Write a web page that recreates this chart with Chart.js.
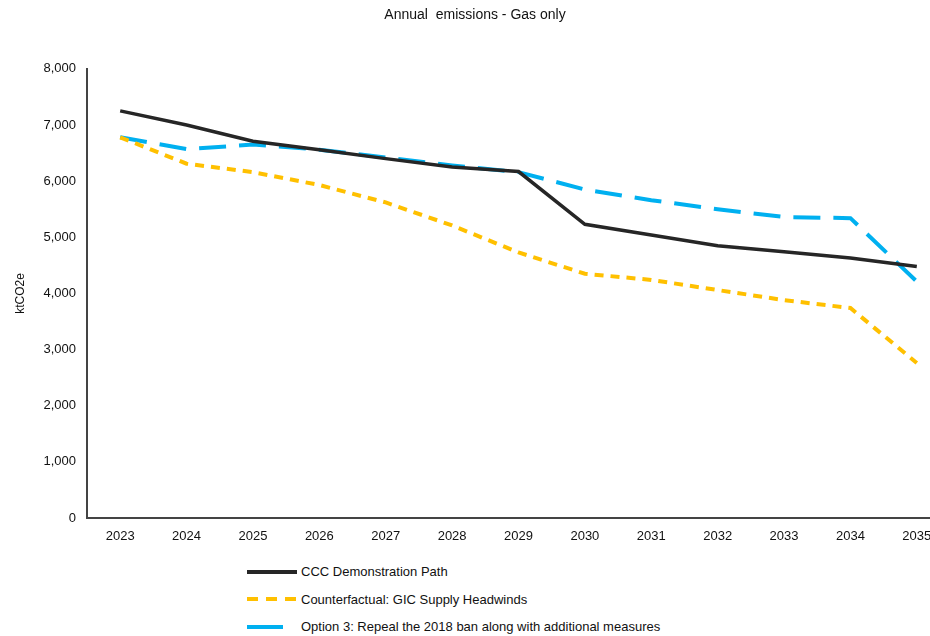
<!DOCTYPE html>
<html>
<head>
<meta charset="utf-8">
<script src="https://cdn.jsdelivr.net/npm/chart.js@4.4.1/dist/chart.umd.min.js"></script>
<style>
    body { margin: 0; background: #fff; overflow: hidden; }
    #wrap { position: relative; width: 952px; height: 636px; }
    #box { position: absolute; left: 0; top: 0; width: 952px; height: 552px; }
    #legenda { position: absolute; left: 246px; top: 558px; font-family: "Liberation Sans", Arial, sans-serif; font-size: 13px; color: #111; }
    .item { height: 27.5px; display: flex; align-items: center; }
    .item svg { width: 54px; height: 10px; margin-right: 1px; }
</style>
</head>
<body>
<div id="wrap">
    <div id="box"><canvas id="graficoEmissoes"></canvas></div>
    <div id="legenda"></div>
</div>
<script>
const anos = ["2023", "2024", "2025", "2026", "2027", "2028", "2029", "2030", "2031", "2032", "2033", "2034", "2035"];
const cccDemonstracao = [7250, 7000, 6710, 6560, 6400, 6250, 6170, 5230, 5040, 4850, 4740, 4630, 4480];
const contrafactual = [6780, 6310, 6160, 5930, 5620, 5210, 4730, 4350, 4240, 4060, 3880, 3740, 2760];
const opcao3 = [6780, 6570, 6650, 6560, 6420, 6280, 6160, 5850, 5660, 5500, 5360, 5340, 4210];
const ticksY = [0, 1000, 2000, 3000, 4000, 5000, 6000, 7000, 8000];

const fonte = "'Liberation Sans', Arial, sans-serif";
const corEixo = "#444";

const series = [
    { label: "CCC Demonstration Path", data: cccDemonstracao, cor: "#262626", dash: [], largura: 3.5 },
    { label: "Counterfactual: GIC Supply Headwinds", data: contrafactual, cor: "#FFC000", dash: [9, 7], largura: 4 },
    { label: "Option 3: Repeal the 2018 ban along with additional measures", data: opcao3, cor: "#00B0F0", dash: [27, 13], largura: 4 }
];

function criarGrafico() {
    const ctx = document.getElementById("graficoEmissoes").getContext("2d");

    new Chart(ctx, {
        type: "line",
        data: {
            labels: anos,
            datasets: series.map(s => ({
                label: s.label,
                data: s.data,
                borderColor: s.cor,
                backgroundColor: s.cor,
                borderDash: s.dash,
                borderWidth: s.largura,
                pointRadius: 0,
                tension: 0,
                fill: false
            }))
        },
        options: {
            responsive: true,
            maintainAspectRatio: false,
            animation: false,
            layout: { padding: { left: 0, right: 2, top: 0, bottom: 0 } },
            plugins: {
                legend: { display: false },
                tooltip: { enabled: false },
                title: {
                    display: true,
                    text: "Annual  emissions - Gas only",
                    color: "#111",
                    font: { family: fonte, size: 14, weight: "normal" },
                    padding: { top: 7, bottom: 45 }
                }
            },
            scales: {
                x: {
                    offset: true,
                    grid: { display: false, drawTicks: false },
                    border: { display: true, color: corEixo, width: 2 },
                    ticks: { color: "#111", font: { family: fonte, size: 13 }, padding: 11, maxRotation: 0, autoSkip: false },
                    afterFit: scale => { scale.height = 34; }
                },
                y: {
                    min: 0,
                    max: 8000,
                    afterBuildTicks: scale => { scale.ticks = ticksY.map(v => ({ value: v })); },
                    grid: { display: false, drawTicks: false },
                    border: { display: true, color: corEixo, width: 2 },
                    ticks: {
                        color: "#111",
                        font: { family: fonte, size: 13 },
                        padding: 11,
                        callback: v => v.toLocaleString("en-US")
                    },
                    title: {
                        display: true,
                        text: "ktCO2e",
                        color: "#111",
                        font: { family: fonte, size: 12 },
                        padding: { top: 13, bottom: 0 }
                    },
                    afterFit: scale => { scale.width = 87; }
                }
            }
        }
    });
}

function criarLegenda() {
    const legenda = document.getElementById("legenda");
    const amostras = [
        '<line x1="1" y1="5" x2="51" y2="5" stroke="#262626" stroke-width="4"/>',
        '<line x1="1" y1="5" x2="51" y2="5" stroke="#FFC000" stroke-width="4" stroke-dasharray="11 8"/>',
        '<line x1="1" y1="5" x2="37" y2="5" stroke="#00B0F0" stroke-width="4"/>'
    ];
    series.forEach((s, i) => {
        const div = document.createElement("div");
        div.className = "item";
        div.innerHTML = '<svg viewBox="0 0 54 10">' + amostras[i] + '</svg><span>' + s.label + '</span>';
        legenda.appendChild(div);
    });
}

criarGrafico();
criarLegenda();
</script>
</body>
</html>
